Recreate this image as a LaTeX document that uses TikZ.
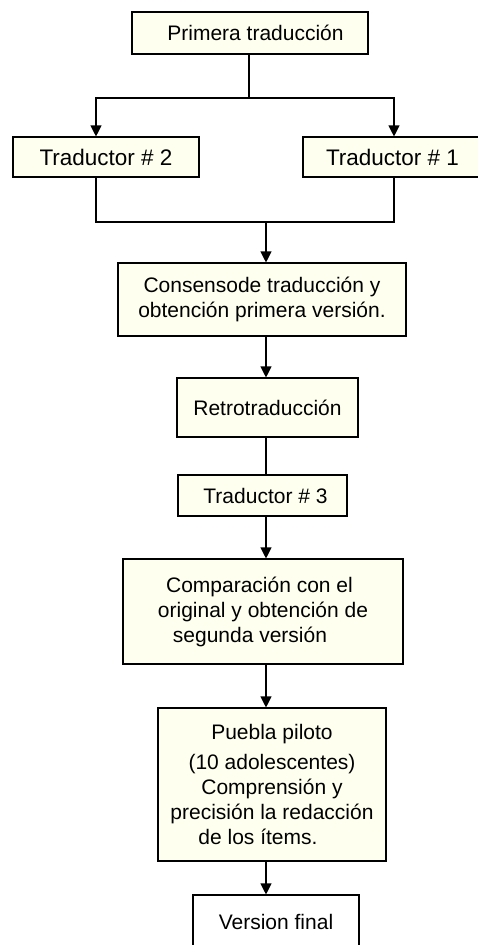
\documentclass[tikz,border=0pt]{standalone}
\usepackage{fontspec}
\setmainfont{Liberation Sans}
\usetikzlibrary{arrows.meta}
\definecolor{cream}{RGB}{255,255,240}
\tikzset{
  box/.style={draw=black, line width=1.1pt, fill=cream, inner sep=0pt, align=center,
    font=\fontsize{21}{25}\selectfont},
  whitebox/.style={box, fill=white},
  conn/.style={line width=1.1pt, draw=black},
  arr/.style={conn, -{Triangle[width=11pt,length=11pt]}},
}
\begin{document}
\begin{tikzpicture}[x=1pt,y=-1pt]
\useasboundingbox (0,0) rectangle (478,945);
\clip (0,0) rectangle (478,945);
\fill[white] (0,0) rectangle (478,945);

\node[box, minimum width=236pt, minimum height=42pt] (prim) at (250,33) {\hspace*{11pt}Primera traducción};
\node[box, minimum width=186pt, minimum height=40pt, font=\fontsize{22.5}{26}\selectfont] (t2) at (106,157) {Traductor \# 2};
\node[box, minimum width=179pt, minimum height=40pt, font=\fontsize{22.5}{26}\selectfont] (t1) at (392.5,157) {Traductor \# 1};
\node[box, minimum width=288pt, minimum height=73pt] (cons) at (262,299.5) {Consensode traducción y\\obtención primera versión.};
\node[box, minimum width=181pt, minimum height=59pt] (retro) at (267.5,407.5) {Retrotraducción};
\node[box, minimum width=169pt, minimum height=41pt] (t3) at (262.5,495.5) {\hspace*{6pt}Traductor \# 3};
\node[box, minimum width=280pt, minimum height=105pt] (comp) at (263,611.5) {Comparación con el\hspace*{7pt}\\original y obtención de\hspace*{8pt}\\segunda versión\hspace*{26pt}};
\node[box, minimum width=228pt, minimum height=153pt] (pueb) at (272,784.5) {Puebla piloto\\[5pt](10 adolescentes)\\Comprensión y\\precisión la redacción\\de los ítems.\hspace*{28pt}};
\node[whitebox, minimum width=166pt, minimum height=54pt] (fin) at (276,922) {Version final};

\coordinate (s1) at (249,98);
\coordinate (m1) at (266,222);
\coordinate (ax) at (266,0);

\draw[conn] (prim.south -| s1) -- (s1);
\draw[arr] (s1) -| ([xshift=-10pt]t2.north);
\draw[arr] (s1) -| ([xshift=1.5pt]t1.north);
\draw[conn] ([xshift=-10pt]t2.south) |- (m1) -| ([xshift=1.5pt]t1.south);
\draw[arr] (m1) -- (m1 |- cons.north);
\draw[arr] (ax |- cons.south) -- (ax |- retro.north);
\draw[conn] (ax |- retro.south) -- (ax |- t3.north);
\draw[arr] (ax |- t3.south) -- (ax |- comp.north);
\draw[arr] (ax |- comp.south) -- (ax |- pueb.north);
\draw[arr] (ax |- pueb.south) -- (ax |- fin.north);
\end{tikzpicture}
\end{document}
